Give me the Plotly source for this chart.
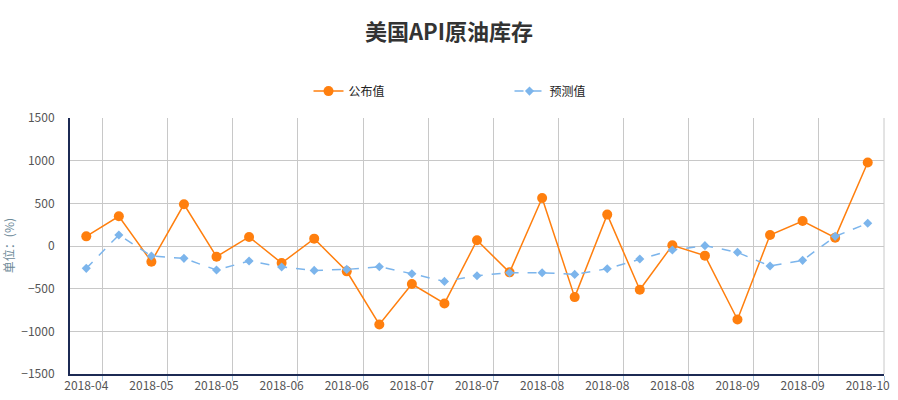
import plotly.graph_objects as go

# 25 weekly releases, labels shown on every other week
tick_labels = ["2018-04", "2018-05", "2018-05", "2018-06", "2018-06", "2018-07", "2018-07",
               "2018-08", "2018-08", "2018-08", "2018-09", "2018-09", "2018-10"]

actual = [113, 348, -184, 489, -125, 106, -200, 86, -297, -919, -446, -673,
          67, -309, 563, -599, 368, -512, 8, -113, -861, 129, 293, 98, 978]
forecast = [-262, 129, -117, -145, -282, -176, -246, -286, -274, -243, -325, -415,
            -348, -313, -313, -333, -266, -153, -47, 4, -74, -235, -168, 113, 266]

x = list(range(len(actual)))

fig = go.Figure()
fig.add_trace(go.Scatter(
    x=x, y=actual, name="公布值", mode="lines+markers",
    line=dict(color="#ff7f0e", width=1.5),
    marker=dict(symbol="circle", size=10, color="#ff7f0e"),
))
fig.add_trace(go.Scatter(
    x=x, y=forecast, name="预测值", mode="lines+markers",
    line=dict(color="#7cb5ec", width=1.5, dash="dash"),
    marker=dict(symbol="diamond", size=7, color="#7cb5ec"),
))

fig.update_layout(
    width=898, height=400,
    margin=dict(l=70, r=14, t=118, b=26, autoexpand=False),
    paper_bgcolor="white", plot_bgcolor="white",
    font=dict(family="Noto Sans CJK SC, sans-serif", color="#555", size=12),
    title=dict(text="<b>美国API原油库存</b>", x=0.5, xanchor="center", y=0.92, yanchor="middle",
               font=dict(size=22, color="#333")),
    legend=dict(orientation="h", x=0.293, xanchor="left", y=1.105, yanchor="middle",
                entrywidth=156, entrywidthmode="pixels",
                font=dict(size=12, color="#222")),
    xaxis=dict(
        range=[-0.5, len(actual) - 0.5], automargin=False,
        tickmode="array", tickvals=x[::2], ticktext=tick_labels,
        showgrid=False, zeroline=False,
        showline=True, linecolor="#1c2a54", linewidth=2,
        ticks="", tickfont=dict(size=12, color="#555"),
        minor=dict(tickmode="linear", tick0=0.5, dtick=2, showgrid=True,
                   gridcolor="#c8c8c8", gridwidth=1, ticks="outside",
                   ticklen=5, tickcolor="#a9c4dc"),
    ),
    yaxis=dict(
        range=[-1500, 1500], dtick=500, automargin=False,
        showgrid=True, gridcolor="#c8c8c8", zeroline=False,
        showline=True, linecolor="#1c2a54", linewidth=2,
        ticks="", ticklabelstandoff=11, tickfont=dict(size=12, color="#555"),
    ),
)

# y axis unit label
fig.add_annotation(text="单位：(%)", xref="paper", yref="paper", x=-0.076, y=0.5,
                   xanchor="center", yanchor="middle", textangle=-90, showarrow=False,
                   font=dict(size=12, color="#6e8a99"))

# right border of the grid
fig.add_shape(type="line", xref="paper", yref="paper", x0=1, x1=1, y0=0, y1=1,
              line=dict(color="#c8c8c8", width=1))

# drop the default body margin so the figure fills the window
fig.write_html("out.html", config={"displayModeBar": False},
               post_script="document.body.style.margin='0';")
